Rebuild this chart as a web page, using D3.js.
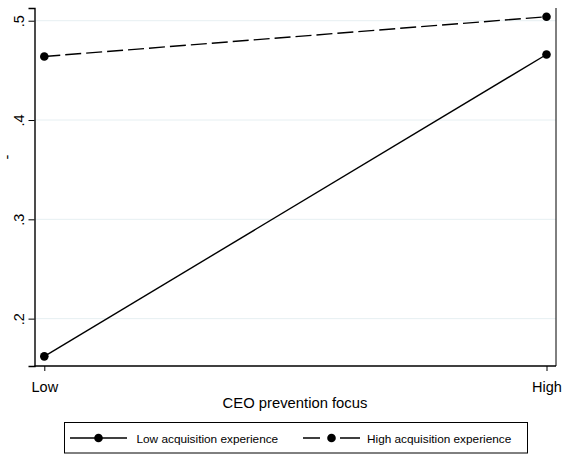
<!DOCTYPE html>
<html><head><meta charset="utf-8">
<script src="https://cdn.jsdelivr.net/npm/d3@7"></script>
<style>
html,body{margin:0;padding:0;background:#fff;}
svg{display:block;font-family:"Liberation Sans",Arial,sans-serif;}
</style></head>
<body>
<svg id="chart" width="566" height="458"></svg>
<script>
const categories = ["Low", "High"];
const seriesNames = ["Low acquisition experience", "High acquisition experience"];
const lowExperience = [0.162, 0.466];
const highExperience = [0.464, 0.504];
const yTicks = [0.2, 0.3, 0.4, 0.5];
const yTickLabels = [".2", ".3", ".4", ".5"];
const xTitle = "CEO prevention focus";
const yTitle = "-";

const svg = d3.select("#chart");
const plot = {left: 34.5, right: 556, top: 8, bottom: 366};

const x = d3.scalePoint().domain(categories).range([44.3, 546.5]);
const y = d3.scaleLinear().domain([0.1523, 0.5128]).range([plot.bottom, plot.top]);

// gridlines
svg.append("g").selectAll("line").data(yTicks).join("line")
  .attr("x1", plot.left).attr("x2", plot.right)
  .attr("y1", d => y(d)).attr("y2", d => y(d))
  .attr("stroke", "#e6eff2").attr("stroke-width", 1);

// right frame line
svg.append("line").attr("x1", plot.right).attr("x2", plot.right).attr("y1", plot.top).attr("y2", plot.bottom)
  .attr("stroke", "#000").attr("stroke-width", 1);

// y axis
const yAxis = d3.axisLeft(y).tickValues(yTicks).tickSize(6).tickPadding(0)
  .tickFormat((d, i) => yTickLabels[i]);
const gy = svg.append("g").attr("transform", `translate(${plot.left},0)`).call(yAxis);
gy.select(".domain").attr("stroke", "#000").attr("stroke-width", 1.4);
gy.selectAll(".tick line").attr("stroke", "#000").attr("stroke-width", 1);
gy.selectAll(".tick text")
  .attr("font-size", 14.5).attr("fill", "#000")
  .attr("text-anchor", "middle")
  .attr("transform", "translate(-11,0) rotate(-90)")
  .attr("x", 0).attr("y", 0).attr("dy", 0);

// x axis
const xAxis = d3.axisBottom(x).tickSize(5).tickPadding(0);
const gx = svg.append("g").attr("transform", `translate(0,${plot.bottom})`).call(xAxis);
gx.select(".domain").attr("d", `M${plot.left},0H${plot.right}`).attr("stroke", "#000").attr("stroke-width", 1.4);
gx.selectAll(".tick line").attr("stroke", "#000").attr("stroke-width", 1);
gx.selectAll(".tick text").attr("font-size", 14.5).attr("fill", "#000")
  .attr("y", 26).attr("dy", 0);

// titles
svg.append("text").attr("x", 295).attr("y", 408).attr("text-anchor", "middle")
  .attr("font-size", 14.8).attr("fill", "#000").text(xTitle);
svg.append("text").attr("transform", "translate(12,157) rotate(-90)").attr("text-anchor", "middle")
  .attr("font-size", 14.5).attr("fill", "#000").text(yTitle);

// series
const series = [
  {name: seriesNames[0], values: lowExperience, dash: null},
  {name: seriesNames[1], values: highExperience, dash: "16,5"}
];
const line = d3.line().x((d, i) => x(categories[i])).y(d => y(d));
series.forEach(s => {
  svg.append("path").datum(s.values).attr("d", line)
    .attr("fill", "none").attr("stroke", "#000").attr("stroke-width", 1.4)
    .attr("stroke-dasharray", s.dash);
  svg.append("g").selectAll("circle").data(s.values).join("circle")
    .attr("cx", (d, i) => x(categories[i])).attr("cy", d => y(d))
    .attr("r", 4.3).attr("fill", "#000");
});

// legend
const lg = svg.append("g");
lg.append("rect").attr("x", 64.5).attr("y", 422.5).attr("width", 463).attr("height", 30.5)
  .attr("fill", "#fff").attr("stroke", "#000").attr("stroke-width", 1);
const legendItems = [
  {x0: 70, x1: 127, text: seriesNames[0], tx: 136.5, dash: null},
  {x0: 303, x1: 360, text: seriesNames[1], tx: 367, dash: "17,20,20"}
];
legendItems.forEach(it => {
  lg.append("line").attr("x1", it.x0).attr("x2", it.x1).attr("y1", 438).attr("y2", 438)
    .attr("stroke", "#000").attr("stroke-width", 1.4).attr("stroke-dasharray", it.dash);
  lg.append("circle").attr("cx", (it.x0 + it.x1) / 2).attr("cy", 438).attr("r", 4.3).attr("fill", "#000");
  lg.append("text").attr("x", it.tx).attr("y", 442.5).attr("font-size", 11.8).attr("fill", "#000").text(it.text);
});
</script>
</body></html>
